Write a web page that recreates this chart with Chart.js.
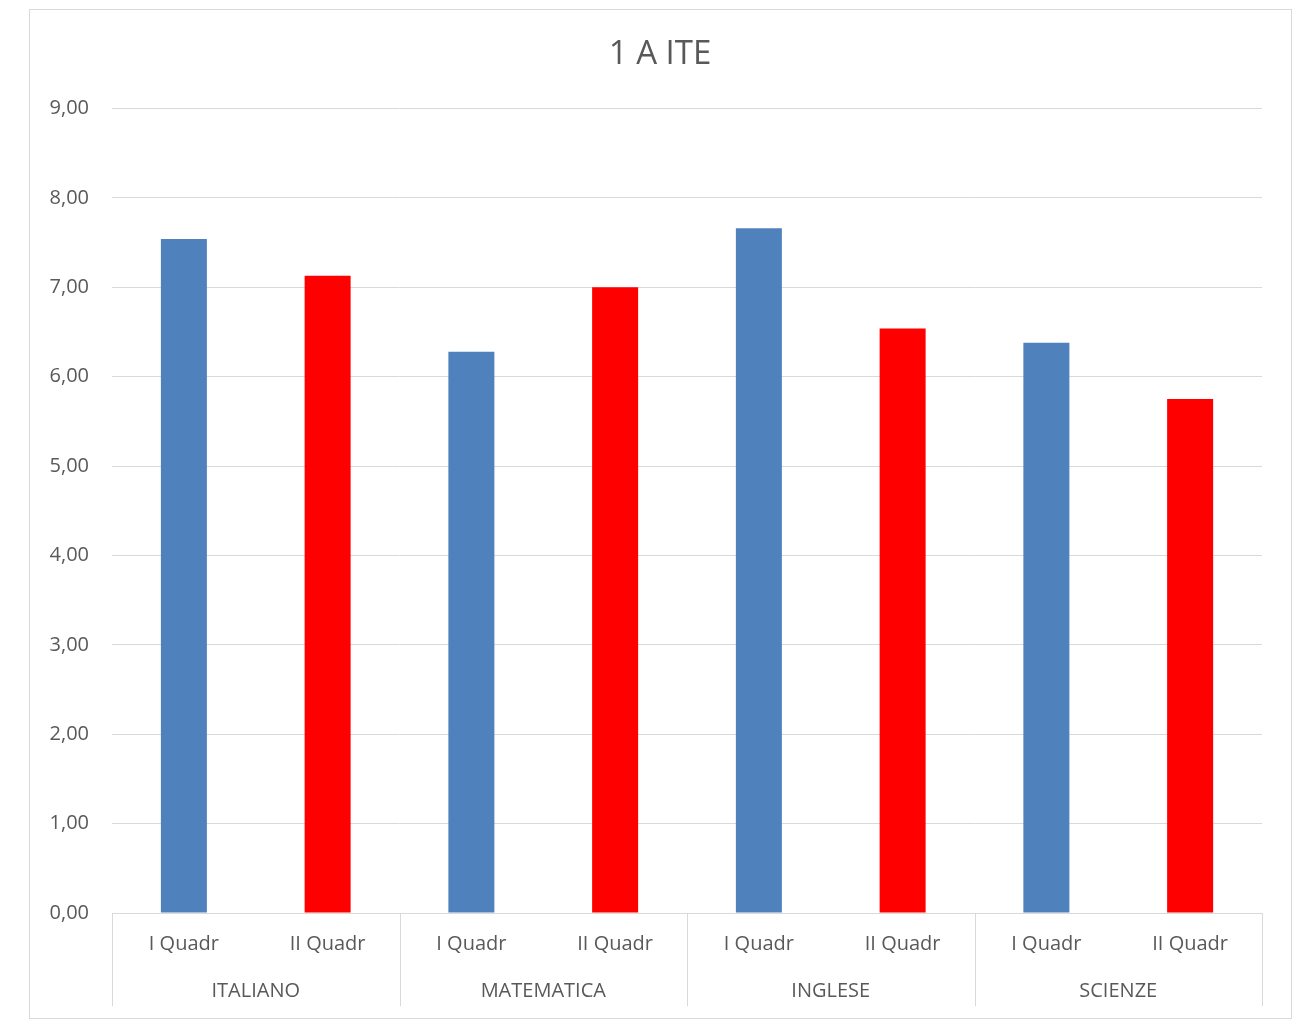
<!DOCTYPE html>
<html>
<head>
<meta charset="utf-8">
<script src="https://cdn.jsdelivr.net/npm/chart.js@4.4.1/dist/chart.umd.min.js"></script>
<style>
  html, body { margin: 0; padding: 0; background: #fff; }
  #box {
    position: absolute; left: 29px; top: 9px;
    width: 1263px; height: 1010px;
    box-sizing: border-box; border: 1.5px solid #d9d9d9; background: #fff;
  }
  #box canvas { position: absolute; left: 0; top: 0; }
</style>
</head>
<body>
<div id="box"><canvas id="chart"></canvas></div>
<script>
// values
const subjects = ['ITALIANO', 'MATEMATICA', 'INGLESE', 'SCIENZE'];
const periods = ['I Quadr', 'II Quadr'];
const firstQuad = [7.54, 6.28, 7.66, 6.38];
const secondQuad = [7.13, 7.00, 6.54, 5.75];
const periodColors = ['#4F81BD', '#FF0000'];

const labels = [];
const values = [];
const colors = [];
subjects.forEach((s, i) => {
  labels.push(periods[0], periods[1]);
  values.push(firstQuad[i], secondQuad[i]);
  colors.push(periodColors[0], periodColors[1]);
});

const textColor = '#595959';
const gridColor = '#d9d9d9';
const font = "'Open Sans', sans-serif";

// second row of the category axis: subject names + separators
const groupAxis = {
  id: 'groupAxis',
  afterDraw(chart) {
    const x = chart.scales.x;
    const ctx = chart.ctx;
    const bottom = chart.chartArea.bottom;
    const slot = x.width / labels.length;
    ctx.save();
    ctx.strokeStyle = gridColor;
    ctx.lineWidth = 1;
    for (let i = 0; i <= subjects.length; i++) {
      const px = Math.round(x.left + i * 2 * slot) + 0.5;
      ctx.beginPath();
      ctx.moveTo(px, bottom);
      ctx.lineTo(px, bottom + 93);
      ctx.stroke();
    }
    ctx.fillStyle = textColor;
    ctx.font = "20px " + font;
    ctx.textAlign = 'center';
    ctx.textBaseline = 'middle';
    subjects.forEach((s, i) => {
      const cx = (x.getPixelForValue(2 * i) + x.getPixelForValue(2 * i + 1)) / 2;
      ctx.fillText(s, cx, bottom + 78);
    });
    ctx.restore();
  }
};

const el = document.getElementById('chart');
el.width = 1260;
el.height = 1007;
el.style.width = '1260px';
el.style.height = '1007px';

new Chart(el, {
  type: 'bar',
  data: {
    labels: labels,
    datasets: [{
      data: values,
      backgroundColor: colors,
      borderWidth: 0,
      barPercentage: 0.32,
      categoryPercentage: 1
    }]
  },
  plugins: [groupAxis],
  options: {
    responsive: false,
    animation: false,
    layout: { padding: { left: 0, right: 0, top: 0, bottom: 61 } },
    plugins: {
      legend: { display: false },
      tooltip: { enabled: false },
      title: {
        display: true,
        text: '1 A ITE',
        color: textColor,
        font: { family: font, size: 33, weight: 'normal' },
        padding: { top: 25, bottom: 34 }
      }
    },
    scales: {
      x: {
        grid: { display: false, drawTicks: false },
        border: { display: true, color: gridColor, width: 1 },
        ticks: { color: textColor, font: { family: font, size: 20 }, padding: 19, maxRotation: 0 },
        afterFit(scale) { scale.height = 43; }
      },
      y: {
        min: 0,
        max: 9,
        ticks: {
          stepSize: 1,
          color: textColor,
          padding: 23,
          font: { family: font, size: 20 },
          callback: v => v.toFixed(2).replace('.', ',')
        },
        grid: { color: gridColor, lineWidth: 1, drawTicks: false },
        border: { display: false },
        afterFit(scale) { scale.width = 82; }
      },
      // empty right margin so the title stays centred on the whole frame
      spacer: {
        type: 'linear',
        position: 'right',
        grid: { display: false, drawTicks: false },
        border: { display: false },
        ticks: { display: false },
        afterFit(scale) { scale.width = 28; }
      }
    }
  }
});
</script>
</body>
</html>
